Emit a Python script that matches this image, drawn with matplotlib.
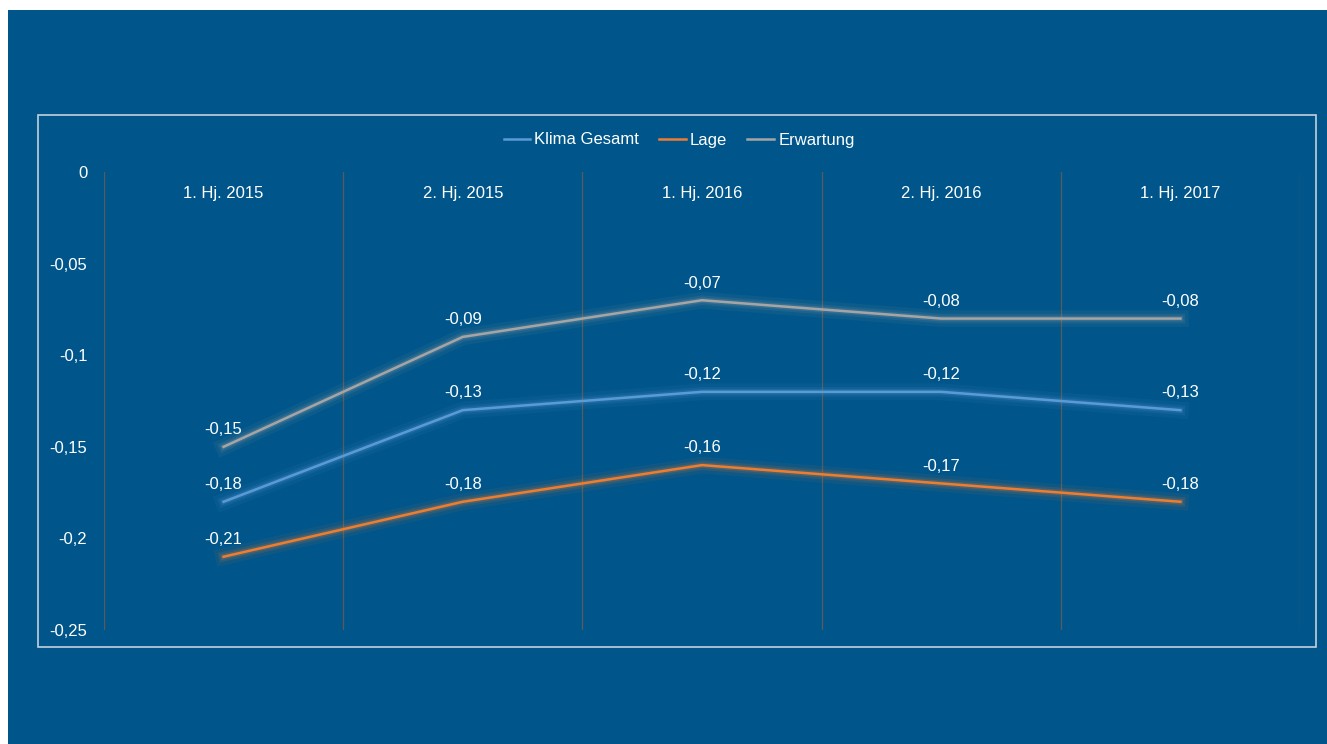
import matplotlib
matplotlib.use("Agg")
import matplotlib.pyplot as plt
import matplotlib.patheffects as pe
from matplotlib.patches import Rectangle

# ---------------- Daten ----------------
kategorien = ["1. Hj. 2015", "2. Hj. 2015", "1. Hj. 2016", "2. Hj. 2016", "1. Hj. 2017"]
klima_gesamt = [-0.18, -0.13, -0.12, -0.12, -0.13]
lage = [-0.21, -0.18, -0.16, -0.17, -0.18]
erwartung = [-0.15, -0.09, -0.07, -0.08, -0.08]
y_ticks = [0, -0.05, -0.1, -0.15, -0.2, -0.25]

BG = "#00568A"
FS = 12
plt.rcParams["font.family"] = ["Liberation Sans", "DejaVu Sans"]

fig = plt.figure(figsize=(13.27, 7.44), dpi=100)
fig.patch.set_facecolor("white")
W, H = 1327, 744
# blauer Hintergrund (weisser Rand oben/links)
fig.patches.append(Rectangle((8 / W, 0), 1 - 8 / W, 1 - 10 / H, transform=fig.transFigure,
                             facecolor=BG, edgecolor="none", zorder=-2))
# Rahmen um das Diagramm
fig.patches.append(Rectangle((38 / W, 1 - 647 / H), (1316 - 38) / W, (647 - 115) / H,
                             transform=fig.transFigure, facecolor="none",
                             edgecolor="#C3D0DD", lw=1.2, zorder=-1))

ax = fig.add_axes([104 / W, 1 - 630 / H, (1300 - 104) / W, (630 - 172) / H])
ax.set_zorder(2)
ax.set_facecolor("none")
x = list(range(len(kategorien)))

series = [
    ("Klima Gesamt", klima_gesamt, "#5B9BD5"),
    ("Lage", lage, "#ED7D31"),
    ("Erwartung", erwartung, "#A5A5A5"),
]

for name, vals, col in series:
    ax.plot(x, vals, color=col, lw=1.8, label=name, zorder=3,
            path_effects=[pe.Stroke(linewidth=12, foreground=col, alpha=0.07),
                          pe.Stroke(linewidth=7, foreground=col, alpha=0.12),
                          pe.Stroke(linewidth=4, foreground=col, alpha=0.2),
                          pe.Normal()])
    for xi, v in zip(x, vals):
        ax.annotate(f"{v:.2f}".replace(".", ","), (xi, v), xytext=(0, 7),
                    textcoords="offset points", ha="center", va="bottom",
                    color="white", fontsize=FS, zorder=4)

ax.set_xlim(-0.5, len(kategorien) - 0.5)
ax.set_ylim(-0.25, 0)

# vertikale Gitterlinien zwischen den Kategorien
for g in [i - 0.5 for i in range(len(kategorien) + 1)]:
    ax.axvline(g, color="#5A5A5A", lw=0.9, zorder=1)

for s in ax.spines.values():
    s.set_visible(False)

ax.set_yticks(y_ticks)
ax.set_yticklabels([("%g" % t).replace(".", ",") for t in y_ticks])
ax.tick_params(axis="y", length=0, pad=12, colors="white", labelsize=FS)
ax.set_xticks([])

# Kategorienbeschriftungen unter der Null-Linie
for xi, k in zip(x, kategorien):
    ax.text(xi, -0.0115, k, ha="center", va="center", color="white", fontsize=FS)

leg = fig.legend(loc="center", bbox_to_anchor=(679 / W, 1 - 140 / H), ncol=3, frameon=False,
                 fontsize=FS, handlelength=1.6, handletextpad=0.25, columnspacing=1.2)
for t in leg.get_texts():
    t.set_color("white")
for h in leg.get_lines():
    h.set_path_effects([])
    h.set_linewidth(1.8)

fig.savefig("out.png", dpi=100, facecolor=fig.get_facecolor())
